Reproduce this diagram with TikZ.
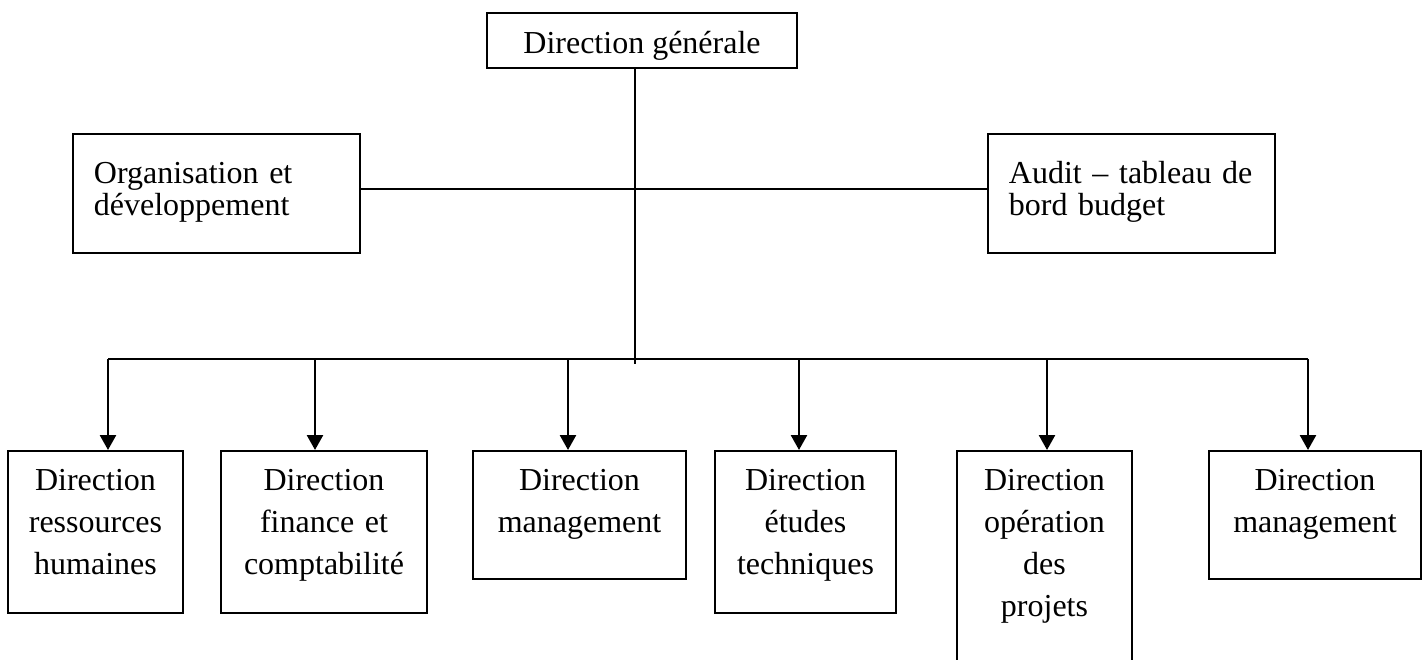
\documentclass[tikz,border=0pt]{standalone}
\usepackage{fontspec}
\setmainfont{Liberation Serif}
\usetikzlibrary{arrows.meta}

\begin{document}
\begin{tikzpicture}[x=1pt, y=-1pt, line width=1.8pt,
    box/.style={draw, inner xsep=0pt, inner ysep=0pt, font=\fontsize{32}{42}\selectfont},
    dirbox/.style={box, anchor=north, align=center, text height=40pt, text depth=#1},
    sidebox/.style={box, anchor=north west, align=left, text width=245pt, inner xsep=21pt,
        font=\fontsize{32}{32}\selectfont, text height=50pt, text depth=69pt},
    arr/.style={line width=2.6pt, -{Triangle[width=16pt,length=15pt]}}]
    \useasboundingbox (0,0) rectangle (1428,660);
    \node[box, anchor=north, minimum width=310pt, text height=41pt, text depth=14pt] (dg) at (642,12) {Direction générale};
    \node[sidebox] (org) at (72,133) {Organisation et\\développement};
    \node[sidebox] (audit) at (987,133) {Audit -- tableau de\\bord budget};
    \node[dirbox=122pt, text width=175pt] (rh) at (95.5,450) {Direction\\ressources\\humaines};
    \node[dirbox=122pt, text width=206pt] (fin) at (324,450) {Direction\\finance et\\comptabilité};
    \node[dirbox=88pt, text width=213pt] (mg) at (579.5,450) {Direction\\management};
    \node[dirbox=122pt, text width=181pt] (et) at (805.5,450) {Direction\\études\\techniques};
    \node[dirbox=230pt, text width=175pt] (op) at (1044.5,450) {Direction\\opération\\des\\projets};
    \node[dirbox=88pt, text width=212pt] (mg2) at (1315,450) {Direction\\management};
    % bus
    \coordinate (spine) at (635,364);
    \coordinate (b1) at (108,359);
    \coordinate (b2) at (315,359);
    \coordinate (b3) at (568,359);
    \coordinate (b4) at (799,359);
    \coordinate (b5) at (1047,359);
    \coordinate (b6) at (1308,359);
    \draw (spine |- dg.south) -- (spine);
    \draw ([yshift=4pt]org.east) -- ([yshift=4pt]audit.west);
    \draw (b1) -- (b6);
    \draw[arr] (b1) -- (b1 |- rh.north);
    \draw[arr] (b2) -- (b2 |- fin.north);
    \draw[arr] (b3) -- (b3 |- mg.north);
    \draw[arr] (b4) -- (b4 |- et.north);
    \draw[arr] (b5) -- (b5 |- op.north);
    \draw[arr] (b6) -- (b6 |- mg2.north);
\end{tikzpicture}
\end{document}
